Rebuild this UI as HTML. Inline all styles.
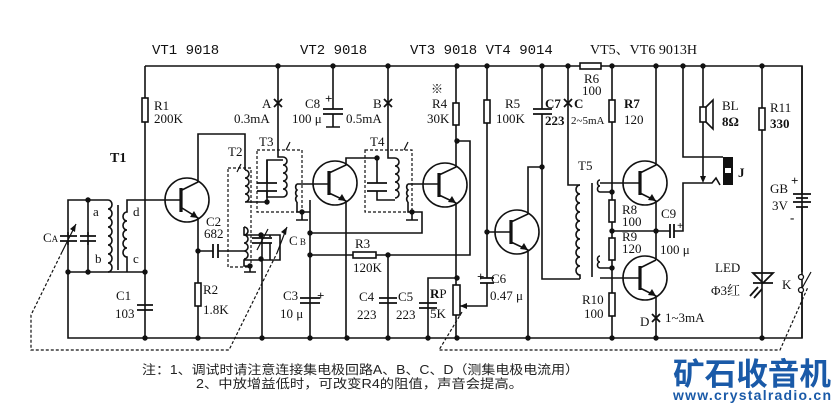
<!DOCTYPE html>
<html><head><meta charset="utf-8"><style>
html,body{margin:0;padding:0;background:#fff;}
svg{display:block}
text{font-family:"Liberation Serif","Noto Serif CJK SC",serif;font-size:13px;fill:#111}
.m{font-family:"Liberation Mono",monospace;font-size:14px}
.b{font-weight:bold}
.cn{font-family:"Liberation Sans","Noto Sans CJK SC",sans-serif;font-size:12.5px;fill:#222}
</style></head><body>
<svg width="837" height="406" viewBox="0 0 837 406" xmlns="http://www.w3.org/2000/svg">
<g stroke="#111" stroke-width="1.6" fill="none">
<path d="M145 66H802V338H68V200H108M68 272H145"/>
<path d="M145 66V338"/>
<path d="M88 200V272"/>
<path d="M108 200a4 4.5 0 0 1 0 9a4 4.5 0 0 1 0 9a4 4.5 0 0 1 0 9a4 4.5 0 0 1 0 9a4 4.5 0 0 1 0 9a4 4.5 0 0 1 0 9a4 4.5 0 0 1 0 9a4 4.5 0 0 1 0 9"/>
<path d="M118 205V270"/>
<path d="M145 200H127V212a4 4.5 0 0 0 0 9a4 4.5 0 0 0 0 9a4 4.5 0 0 0 0 9a4 4.5 0 0 0 0 9a4 4.5 0 0 0 0 9V272"/>
<path d="M145 200H181"/>
<circle cx="187" cy="200" r="22"/>
<path d="M182 190L198 182V134H245V170M182 208L198 218V338"/>
<path d="M245 170a4 4 0 0 1 0 8a4 4 0 0 1 0 8a4 4 0 0 1 0 8a4 4 0 0 1 0 8H267"/>
<path d="M198 251H213M218 251H244"/>
<path d="M244 227a4 4 0 0 1 0 8a4 4 0 0 1 0 8a4 4 0 0 1 0 8a4 4 0 0 1 0 8"/>
<path d="M244 227V235H280V260H244V266H250"/>
<path d="M262 235V338"/>
<path d="M250 266V272M244 272H256"/>
<path d="M68 232V236M68 241V245M88 232V236M88 241V245"/>
<path d="M270 235V237M270 243V260"/>
<path d="M278 66V157H283"/>
<path d="M283 157a4 4 0 0 1 0 8a4 4 0 0 1 0 8a4 4 0 0 1 0 8a4 4 0 0 1 0 8a4 4 0 0 1 0 8H267V160H283"/>
<path d="M267 160V183M267 191V202"/>
<path d="M297 184a4 4 0 0 0 0 6a4 4 0 0 0 0 6a4 4 0 0 0 0 6"/>
<path d="M297 184H330M297 202V212H310M302 212V220M296 220H308"/>
<path d="M310 200V338"/>
<circle cx="335" cy="183" r="22"/>
<path d="M329 173L346 165V158H377M329 193L346 201V338"/>
<path d="M333 66V109M333 114V127M326 127H340"/>
<path d="M388 66V158H395"/>
<path d="M377 158V183M377 191V200H395"/>
<path d="M395 158a4 4 0 0 1 0 8a4 4 0 0 1 0 8a4 4 0 0 1 0 8a4 4 0 0 1 0 8a4 4 0 0 1 0 8"/>
<path d="M408 184a4 4 0 0 0 0 6a4 4 0 0 0 0 6a4 4 0 0 0 0 6"/>
<path d="M408 184H439M408 202V212H422V233H310M412 212V220M406 220H418"/>
<path d="M310 255H353M376 255H470V141H457"/>
<path d="M388 255V338"/>
<circle cx="445" cy="185" r="22"/>
<path d="M439 175L456 167V66M439 195L456 203V338"/>
<path d="M456 278H428V338"/>
<path d="M487 66V232H511M487 232V278M487 283V306H460"/>
<circle cx="517" cy="232" r="22"/>
<path d="M511 222L528 214V167H542M511 242L528 250V338"/>
<path d="M542 66V109M542 114V279H580"/>
<path d="M568 66V185H580"/>
<path d="M580 185a4 4.5 0 0 0 0 9a4 4.5 0 0 0 0 9a4 4.5 0 0 0 0 9a4 4.5 0 0 0 0 9a4 4.5 0 0 0 0 9a4 4.5 0 0 0 0 9a4 4.5 0 0 0 0 9a4 4.5 0 0 0 0 9a4 4.5 0 0 0 0 9a4 4.5 0 0 0 0 9V279"/>
<path d="M592 183V277"/>
<path d="M612 192H600a2.5 3 0 0 1 0 -6a2.5 3 0 0 1 0 -6M600 183H640"/>
<path d="M612 268H600a2.5 3 0 0 1 0 -6a2.5 3 0 0 1 0 -6M600 278H640"/>
<path d="M612 66V338M612 231H670M674 231H683V183H712l4 -5l4 7"/>
<circle cx="645" cy="183" r="22"/>
<path d="M640 173L656 165V66M640 193L656 201V260M640 268L656 260M640 288L656 296V338"/>
<circle cx="645" cy="278" r="22"/>
<path d="M683 66V157H723M703 66V107M703 122V181"/>
<path d="M762 66V338"/>
<path d="M802 66V194M802 207V272M802 293V338"/>
</g>
<g stroke="#111" stroke-width="3.2" fill="none">
<path d="M181 188V212M329 171V195M439 173V197M511 220V244M640 171V195M640 266V290"/>
</g>
<g stroke="#111" stroke-width="1.8" fill="none">
<path d="M213 244V258M218 244V258"/>
<path d="M60 236H77M60 241H77M80 236H96M80 241H96"/>
<path d="M252 238H272M252 243H272"/>
<path d="M137 305H153M137 310H153"/>
<path d="M257 183H277M257 191H277"/>
<path d="M367 183H387M367 191H387"/>
<path d="M323 109H343M323 114H343"/>
<path d="M300 298H320M300 303H320"/>
<path d="M379 298H397M379 303H397"/>
<path d="M419 303H437M419 308H437"/>
<path d="M480 278H494M480 283H494"/>
<path d="M533 109H552M533 114H552"/>
<path d="M670 224V238M674 224V238"/>
<path d="M793 194H811M796 198H808M793 202H811M796 207H808"/>
<path d="M753 273H773L763 283ZM753 283H773M758 287L750 296M762 289L754 298" />
<path d="M274 99L282 107M282 99L274 107M384 99L392 107M392 99L384 107M564 99L572 107M572 99L564 107M652 314L660 322M660 314L652 322"/>
</g>
<g stroke="#111" stroke-width="1.6" fill="#fff">
<rect x="142" y="98" width="6" height="24"/>
<rect x="195" y="283" width="6" height="23"/>
<rect x="353" y="252" width="23" height="6"/>
<rect x="453" y="103" width="6" height="22"/>
<rect x="484" y="100" width="6" height="23"/>
<rect x="453" y="285" width="7" height="30"/>
<rect x="580" y="63" width="21" height="6"/>
<rect x="609" y="100" width="6" height="22"/>
<rect x="609" y="200" width="6" height="22"/>
<rect x="609" y="238" width="6" height="22"/>
<rect x="609" y="293" width="6" height="23"/>
<rect x="759" y="108" width="6" height="22"/>
<rect x="700" y="107" width="6" height="15"/>
<path d="M706 107L713 100V129L706 122" fill="none"/>
</g>
<rect x="723" y="157" width="10" height="28" fill="#111"/>
<rect x="725" y="168" width="6" height="5" fill="#fff"/>
<g fill="#111">
<path d="M198 218l-8 -1l4 -6z"/><path d="M346 201l-8 -1l4 -6z"/><path d="M456 203l-8 -1l4 -6z"/>
<path d="M528 250l-8 -1l4 -6z"/><path d="M656 201l-8 -1l4 -6z"/><path d="M656 296l-8 -1l4 -6z"/>
<path d="M460 306l7 -3v6z"/><path d="M703 183l-3 -7h6z"/>
<path d="M76 224l-1 8l-5 -3z"/><path d="M287 227l-1 8l-5 -3z"/>
</g>
<g stroke="#111" stroke-width="1.2" fill="none">
<path d="M62 252L76 224M257 250L268 229M237 172l4 -8M286 150l4 -8M404 150l4 -8M277 253L287 227"/>
<path d="M801 290L811 272"/>
</g>
<circle cx="801" cy="277" r="2.5" fill="#fff" stroke="#111" stroke-width="1.3"/>
<circle cx="801" cy="290" r="2.5" fill="#fff" stroke="#111" stroke-width="1.3"/>
<g stroke="#111" stroke-width="1.2" fill="none" stroke-dasharray="3,2">
<path d="M62 252L31 315V350H229L277 253"/>
<path d="M228 168H251V267H228Z"/>
<path d="M257 150H302V212H257Z"/>
<path d="M365 150H412V212H365Z"/>
<path d="M462 312L439 350H780L808 287"/>
</g>
<g fill="#111">
<circle cx="278" cy="66" r="2.7"/><circle cx="333" cy="66" r="2.7"/><circle cx="388" cy="66" r="2.7"/>
<circle cx="457" cy="66" r="2.7"/><circle cx="487" cy="66" r="2.7"/><circle cx="542" cy="66" r="2.7"/>
<circle cx="568" cy="66" r="2.7"/><circle cx="612" cy="66" r="2.7"/><circle cx="656" cy="66" r="2.7"/>
<circle cx="683" cy="66" r="2.7"/><circle cx="703" cy="66" r="2.7"/><circle cx="762" cy="66" r="2.7"/>
<circle cx="88" cy="200" r="2.7"/><circle cx="88" cy="272" r="2.7"/><circle cx="68" cy="272" r="2.7"/><circle cx="145" cy="272" r="2.7"/>
<circle cx="198" cy="251" r="2.7"/><circle cx="267" cy="202" r="2.7"/><circle cx="302" cy="212" r="2.7"/>
<circle cx="261" cy="235" r="2.7"/><circle cx="261" cy="259" r="2.7"/><circle cx="250" cy="266" r="2.7"/>
<circle cx="310" cy="233" r="2.7"/><circle cx="310" cy="255" r="2.7"/><circle cx="388" cy="255" r="2.7"/>
<circle cx="377" cy="158" r="2.7"/><circle cx="412" cy="212" r="2.7"/><circle cx="457" cy="141" r="2.7"/>
<circle cx="457" cy="278" r="2.7"/><circle cx="487" cy="232" r="2.7"/><circle cx="542" cy="167" r="2.7"/>
<circle cx="612" cy="192" r="2.7"/><circle cx="612" cy="231" r="2.7"/><circle cx="612" cy="268" r="2.7"/><circle cx="656" cy="231" r="2.7"/>
<circle cx="145" cy="338" r="2.7"/><circle cx="198" cy="338" r="2.7"/><circle cx="262" cy="338" r="2.7"/>
<circle cx="310" cy="338" r="2.7"/><circle cx="347" cy="338" r="2.7"/><circle cx="388" cy="338" r="2.7"/>
<circle cx="428" cy="338" r="2.7"/><circle cx="457" cy="338" r="2.7"/><circle cx="528" cy="338" r="2.7"/>
<circle cx="612" cy="338" r="2.7"/><circle cx="656" cy="338" r="2.7"/><circle cx="762" cy="338" r="2.7"/>
</g>
<text class="m" x="152" y="54">VT1 9018</text>
<text class="m" x="300" y="54">VT2 9018</text>
<text class="m" x="410" y="54">VT3 9018 VT4 9014</text>
<text x="590" y="54" style="font-size:14px">VT5、VT6 9013H</text>
<text x="154" y="110">R1</text><text x="154" y="123">200K</text>
<text x="262" y="108">A</text><text x="234" y="123">0.3mA</text>
<text x="305" y="108">C8</text><text x="325" y="103" class="b">+</text><text x="292" y="123">100 μ</text>
<text x="346" y="123">0.5mA</text><text x="373" y="108">B</text>
<text x="431" y="93" style="font-size:12px">※</text>
<text x="432" y="108">R4</text><text x="427" y="123">30K</text>
<text x="505" y="108">R5</text><text x="496" y="123">100K</text>
<text x="545" y="108" class="b">C7</text><text x="574" y="108" class="b">C</text>
<text x="545" y="125" class="b">223</text><text x="571" y="124" style="font-size:11px">2~5mA</text>
<text x="584" y="83">R6</text><text x="582" y="95">100</text>
<text x="624" y="108" class="b">R7</text><text x="624" y="124">120</text>
<text x="722" y="110">BL</text><text x="722" y="126" class="b">8Ω</text>
<text x="770" y="112">R11</text><text x="770" y="128" class="b">330</text>
<text x="110" y="162" class="b" style="font-size:14px">T1</text>
<text x="93" y="216">a</text><text x="95" y="263">b</text><text x="133" y="216">d</text><text x="133" y="263">c</text>
<text x="43" y="242">C<tspan style="font-size:9px">A</tspan></text>
<text x="206" y="226">C2</text><text x="204" y="238">682</text>
<text x="228" y="156">T2</text><text x="259" y="146">T3</text><text x="370" y="146">T4</text>
<text x="289" y="245">C<tspan style="font-size:9px"> B</tspan></text>
<text x="355" y="248">R3</text><text x="353" y="272">120K</text>
<text x="116" y="300">C1</text><text x="115" y="318">103</text>
<text x="203" y="294">R2</text><text x="203" y="314">1.8K</text>
<text x="283" y="300">C3</text><text x="280" y="318">10 μ</text><text x="317" y="300" class="b">+</text>
<text x="359" y="301">C4</text><text x="357" y="319">223</text>
<text x="398" y="301">C5</text><text x="396" y="319">223</text>
<text x="430" y="298"><tspan class="b">R</tspan>P</text><text x="430" y="318">5K</text>
<text x="477" y="281" class="b">+</text><text x="491" y="283">C6</text><text x="490" y="300">0.47 μ</text>
<text x="578" y="170">T5</text>
<text x="622" y="214">R8</text><text x="622" y="226">100</text>
<text x="622" y="241">R9</text><text x="622" y="253">120</text>
<text x="582" y="304">R10</text><text x="584" y="318">100</text>
<text x="661" y="218">C9</text><text x="660" y="254">100 μ</text>
<text x="677" y="229" class="b" style="font-size:11px">+</text>
<text x="738" y="177" class="b">J</text>
<text x="770" y="193">GB</text><text x="791" y="185" class="b">+</text>
<text x="772" y="210">3V</text><text x="790" y="222" class="b">-</text>
<text x="715" y="272">LED</text><text x="711" y="295">Φ3红</text>
<text x="782" y="289">K</text>
<text x="640" y="326">D</text><text x="665" y="322">1~3mA</text>
<text class="cn" x="142" y="374" textLength="437" lengthAdjust="spacingAndGlyphs">注：1、调试时请注意连接集电极回路A、B、C、D（测集电极电流用）</text>
<text class="cn" x="196" y="388" textLength="327" lengthAdjust="spacingAndGlyphs">2、中放增益低时，可改变R4的阻值，声音会提高。</text>
<text x="673" y="385" style="font-family:'Noto Sans CJK SC',sans-serif;font-size:31px;font-weight:bold;fill:#1a5aa8" textLength="158" lengthAdjust="spacingAndGlyphs">矿石收音机</text>
<text x="673" y="400" style="font-family:'Liberation Sans',sans-serif;font-size:14px;font-weight:bold;fill:#1a5aa8" textLength="158">www.crystalradio.cn</text>
</svg>
</body></html>
